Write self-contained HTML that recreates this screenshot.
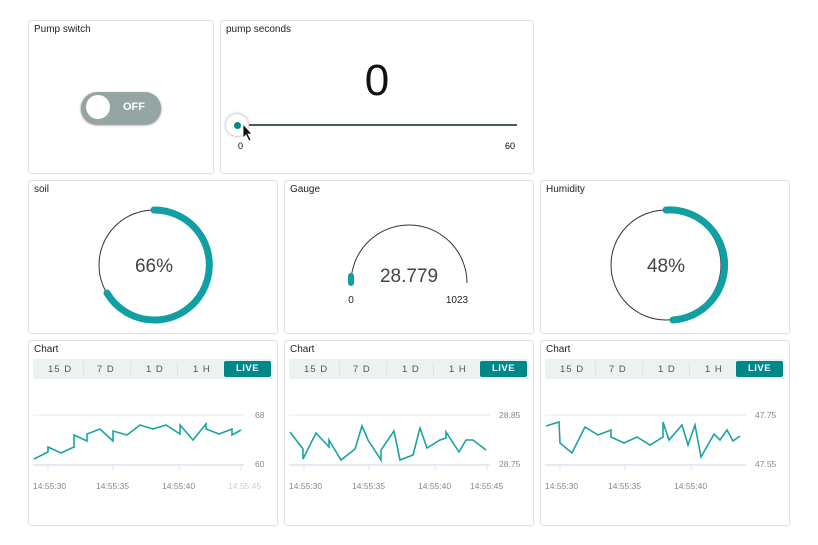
<!DOCTYPE html>
<html><head><style>
body{margin:0;width:818px;height:545px;background:#fff;font-family:"Liberation Sans",sans-serif;position:relative;overflow:hidden}
.c{position:absolute;border:1px solid #dde3e3;border-radius:3px;box-sizing:border-box;background:#fff}
.t{position:absolute;left:5px;top:3px;font-size:10px;color:#222}
.tabs{position:absolute;left:4px;top:18px;width:240px;height:20px;background:#ecf1f1;border-radius:2px;font-size:9.5px;color:#555}
.tabs span{position:absolute;top:5px;letter-spacing:1px}
.tabs i{position:absolute;top:3px;width:1px;height:14px;background:#dde3e3}
.live{position:absolute;right:2px;top:2px;width:47px;height:16px;background:#00878a;border-radius:2px;color:#fff;font-weight:bold;text-align:center;line-height:16px;font-size:9.5px;letter-spacing:.5px}
svg{position:absolute;left:0;top:0}
</style></head><body>
<div class="c" style="left:28px;top:20px;width:186px;height:154px"><div class="t">Pump switch</div>
<div style="position:absolute;left:52px;top:71px;width:80px;height:32px;border-radius:16px;background:#95a5a4;box-shadow:0 1px 2px #777"></div>
<div style="position:absolute;left:57px;top:74px;width:24px;height:24px;border-radius:50%;background:#fff"></div>
<div style="position:absolute;left:94px;top:80px;color:#fff;font-weight:bold;font-size:11px">OFF</div></div>
<div class="c" style="left:220px;top:20px;width:314px;height:154px"><div class="t">pump seconds</div>
<div style="position:absolute;left:0;width:312px;top:35px;text-align:center;font-size:44px;color:#111">0</div>
<div style="position:absolute;left:28px;top:103px;width:268px;height:2px;background:#4a5a5e"></div>
<div style="position:absolute;left:5px;top:93px;width:22px;height:22px;border-radius:50%;background:#fff;box-shadow:0 0 3px #999"></div>
<div style="position:absolute;left:13px;top:101px;width:7px;height:7px;border-radius:50%;background:#00878a"></div>
<div style="position:absolute;left:17px;top:120px;font-size:9px">0</div>
<div style="position:absolute;left:284px;top:120px;font-size:9px">60</div></div>

<div class="c" style="left:28px;top:180px;width:250px;height:154px"><div class="t">soil</div></div>
<div class="c" style="left:284px;top:180px;width:250px;height:154px"><div class="t">Gauge</div></div>
<div class="c" style="left:540px;top:180px;width:250px;height:154px"><div class="t">Humidity</div></div>
<div class="c" style="left:28px;top:340px;width:250px;height:186px"><div class="t">Chart</div><div class="tabs"><span style="left:15px">15 D</span><i style="left:50px"></i><span style="left:64px">7 D</span><i style="left:97px"></i><span style="left:113px">1 D</span><i style="left:144px"></i><span style="left:160px">1 H</span><div class="live">LIVE</div></div></div>
<div class="c" style="left:284px;top:340px;width:250px;height:186px"><div class="t">Chart</div><div class="tabs"><span style="left:15px">15 D</span><i style="left:50px"></i><span style="left:64px">7 D</span><i style="left:97px"></i><span style="left:113px">1 D</span><i style="left:144px"></i><span style="left:160px">1 H</span><div class="live">LIVE</div></div></div>
<div class="c" style="left:540px;top:340px;width:250px;height:186px"><div class="t">Chart</div><div class="tabs"><span style="left:15px">15 D</span><i style="left:50px"></i><span style="left:64px">7 D</span><i style="left:97px"></i><span style="left:113px">1 D</span><i style="left:144px"></i><span style="left:160px">1 H</span><div class="live">LIVE</div></div></div>

<svg width="818" height="545" font-family="Liberation Sans,sans-serif">
<circle cx="154" cy="265" r="55" fill="none" stroke="#333" stroke-width="1"/>
<path d="M154 210 A55 55 0 1 1 107 293" fill="none" stroke="#10a0a3" stroke-width="7" stroke-linecap="round"/>
<text x="154" y="272" font-size="19" text-anchor="middle" fill="#444">66%</text>
<circle cx="666" cy="265" r="55" fill="none" stroke="#333" stroke-width="1"/>
<path d="M666 210 A55 55 0 0 1 673 320" fill="none" stroke="#10a0a3" stroke-width="7" stroke-linecap="round"/>
<text x="666" y="272" font-size="19" text-anchor="middle" fill="#444">48%</text>
<path d="M351 283 A58 58 0 0 1 467 283" fill="none" stroke="#333" stroke-width="1"/>
<path d="M351 283 L351 276" stroke="#10a0a3" stroke-width="6" stroke-linecap="round"/>
<text x="409" y="282" font-size="19" text-anchor="middle" fill="#444">28.779</text>
<text x="351" y="303" font-size="10" text-anchor="middle" fill="#222">0</text>
<text x="457" y="303" font-size="10" text-anchor="middle" fill="#222">1023</text>
<g font-size="8.5" fill="#888" stroke-width="1">
<line x1="33" y1="415" x2="244" y2="415" stroke="#e6eaea"/><line x1="33" y1="465" x2="244" y2="465" stroke="#dfe3f0" stroke-width="1.5"/>
<path d="M48 465v6M113 465v6M179 465v6M241 465v6" stroke="#dfe3f0"/>
<text x="255" y="418">68</text><text x="255" y="467">60</text>
<text x="33" y="489">14:55:30</text><text x="96" y="489">14:55:35</text><text x="162" y="489">14:55:40</text><text x="228" y="489" fill="#ccc">14:55:45</text>
<polyline fill="none" stroke="#1aa3a3" stroke-width="1.6" points="34,459 48,452 48,447 61,453 74,447 74,435 87,441 87,434 100,429 113,441 113,431 127,435 140,425 153,429 166,425 180,434 180,425 193,440 206,424 206,429 219,434 232,429 232,435 241,430"/>
<line x1="289" y1="415" x2="490" y2="415" stroke="#e6eaea"/><line x1="289" y1="465" x2="490" y2="465" stroke="#dfe3f0" stroke-width="1.5"/>
<path d="M304 465v6M369 465v6M435 465v6M487 465v6" stroke="#dfe3f0"/>
<text x="499" y="418">28.85</text><text x="499" y="467">28.75</text>
<text x="289" y="489">14:55:30</text><text x="352" y="489">14:55:35</text><text x="418" y="489">14:55:40</text><text x="470" y="489">14:55:45</text>
<polyline fill="none" stroke="#1aa3a3" stroke-width="1.6" points="290,432 303,449 303,459 316,433 329,447 329,440 341,460 355,449 362,426 368,440 381,460 381,450 394,431 400,460 413,455 420,428 427,448 440,440 446,438 446,432 459,452 466,440 473,440 486,450"/>
<line x1="545" y1="415" x2="746" y2="415" stroke="#e6eaea"/><line x1="545" y1="465" x2="746" y2="465" stroke="#dfe3f0" stroke-width="1.5"/>
<path d="M560 465v6M625 465v6M691 465v6" stroke="#dfe3f0"/>
<text x="755" y="418">47.75</text><text x="755" y="467">47.55</text>
<text x="545" y="489">14:55:30</text><text x="608" y="489">14:55:35</text><text x="674" y="489">14:55:40</text>
<polyline fill="none" stroke="#1aa3a3" stroke-width="1.6" points="546,426 559,422 560,443 572,453 585,427 598,435 611,430 611,437 624,443 637,437 650,445 663,437 663,422 669,440 682,425 688,445 695,425 701,457 714,434 720,440 727,430 733,441 740,436"/>
</g>
<path d="M243 124 L243 138 L246 135 L249 141 L251 140 L248 134 L252 134 Z" fill="#111" stroke="#fff" stroke-width="0.8"/>
</svg>
</body></html>
